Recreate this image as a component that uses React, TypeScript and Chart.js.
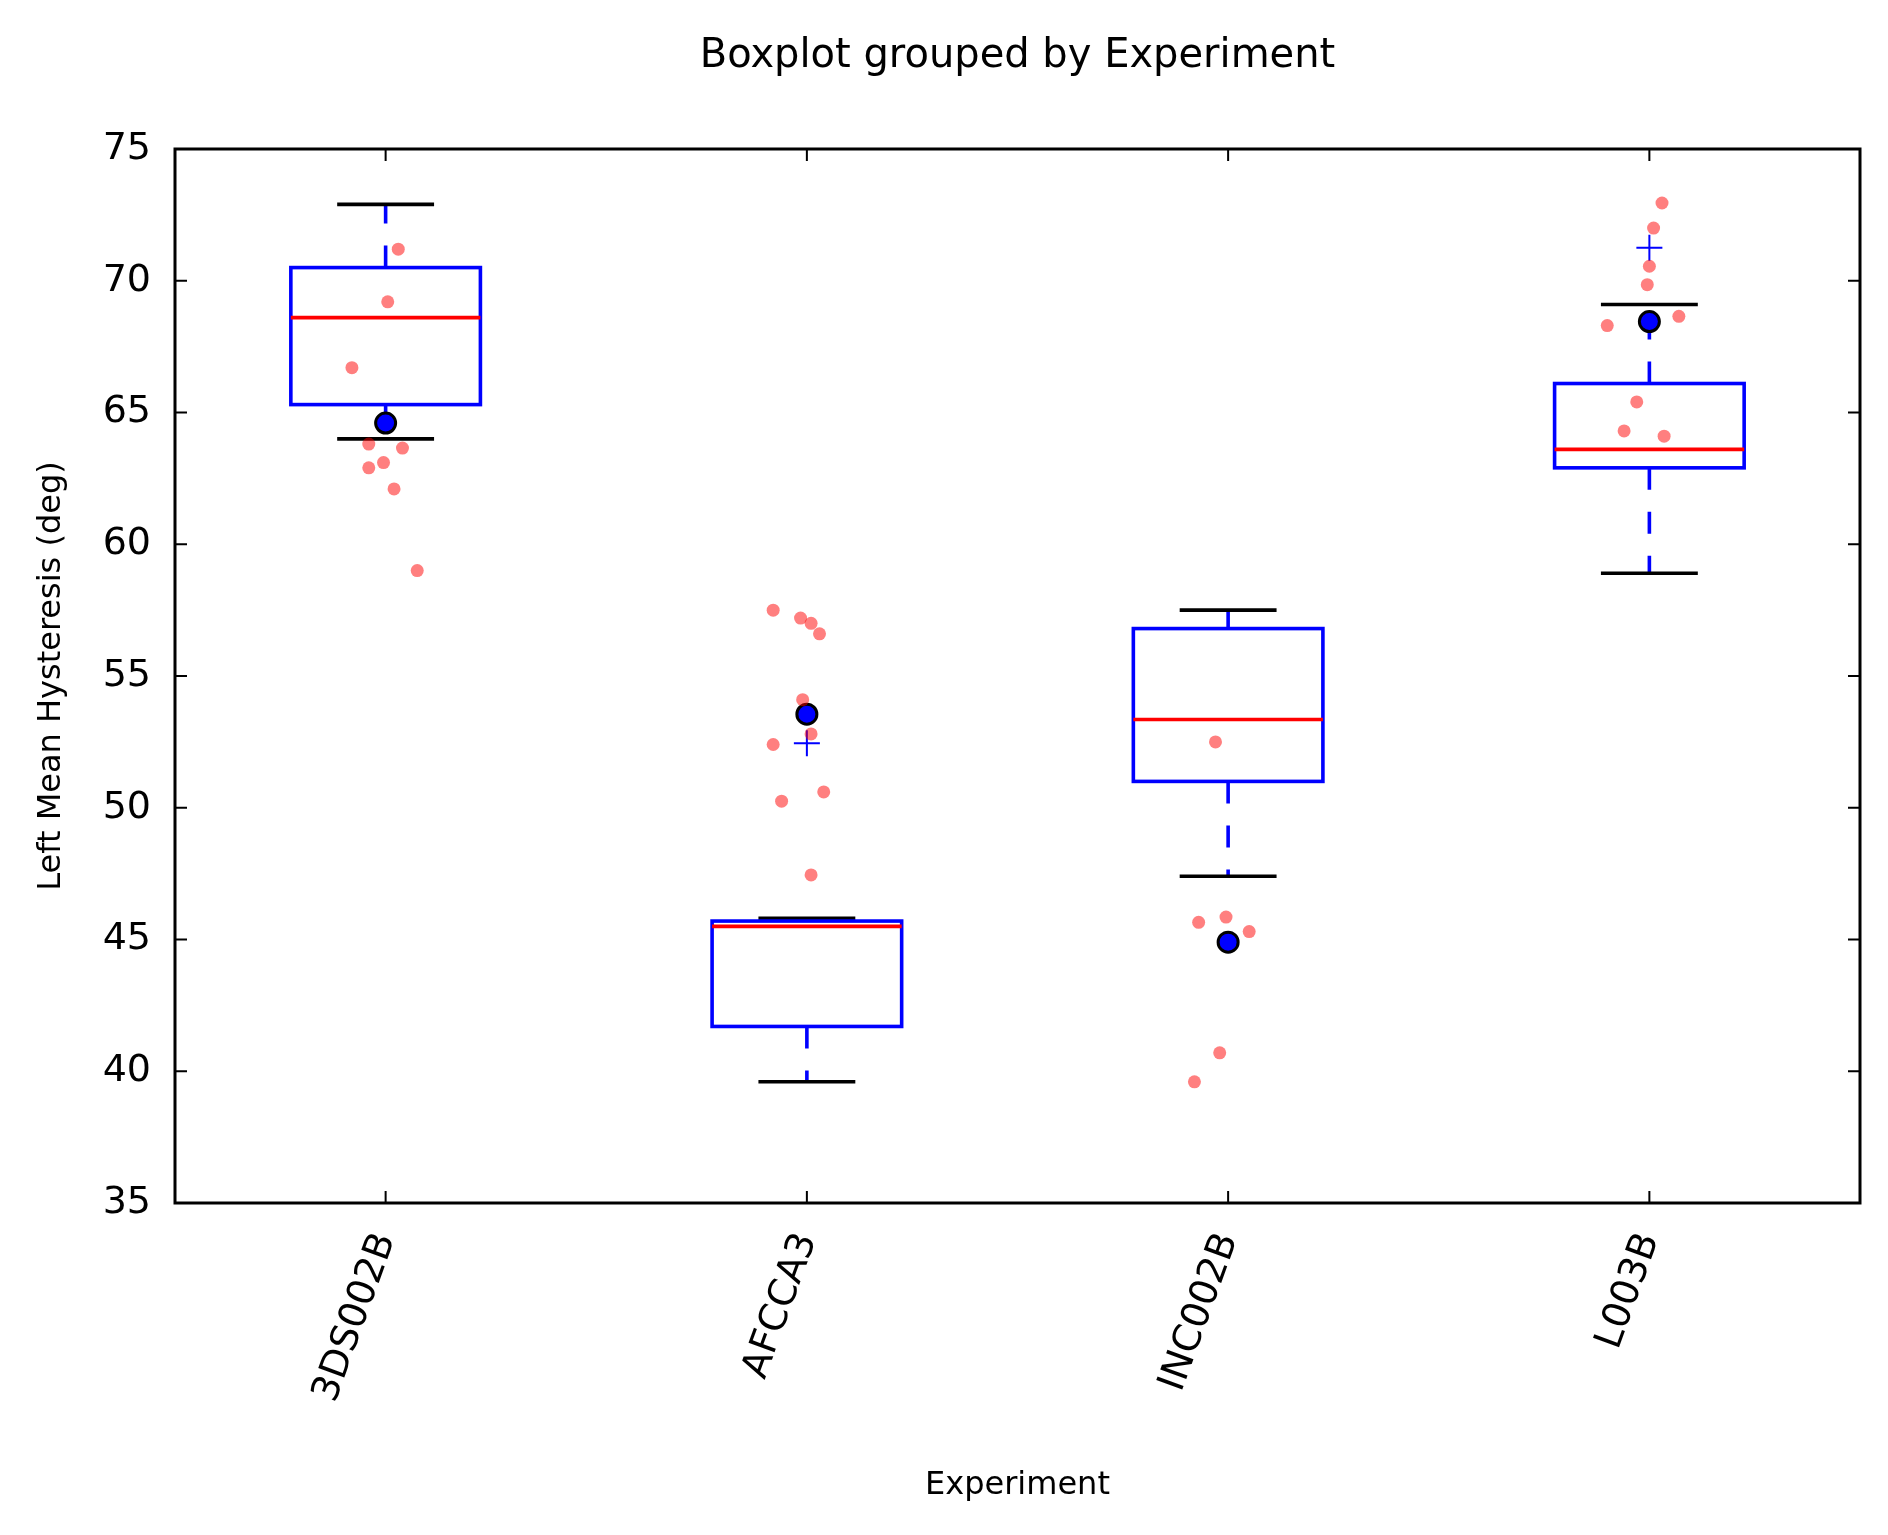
import React, { useEffect, useRef } from "react";
import { Chart, registerables } from "chart.js";

Chart.register(...registerables);

const categories = ["3DS002B", "AFCCA3", "INC002B", "L003B"];
const boxLow = [65.3, 41.7, 51.0, 62.9];
const boxHigh = [70.5, 45.7, 56.8, 66.1];
const medians = [68.6, 45.5, 53.35, 63.6];
const capLow = [64.0, 39.6, 47.4, 58.9];
const capHigh = [72.9, 45.8, 57.5, 69.1];
const means = [64.6, 53.55, 44.9, 68.45];
const fliers = [
  { x: 1, y: 52.45 },
  { x: 3, y: 71.25 },
];
const pointX = [
  0.03, 0.005, -0.08, -0.04, -0.005, -0.04, 0.04, 0.02, 0.075,
  0.92, 0.985, 1.01, 1.03, 0.99, 1.01, 0.92, 0.94, 1.04, 1.01,
  1.97, 1.93, 1.995, 2.05, 1.98, 1.92,
  3.03, 3.01, 3.0, 2.995, 2.9, 3.07, 2.97, 2.94, 3.035,
];
const pointY = [
  71.2, 69.2, 66.7, 63.8, 63.1, 62.9, 63.65, 62.1, 59.0,
  57.5, 57.2, 57.0, 56.6, 54.1, 52.8, 52.4, 50.25, 50.6, 47.45,
  52.5, 45.65, 45.85, 45.3, 40.7, 39.6,
  72.95, 72.0, 70.55, 69.85, 68.3, 68.65, 65.4, 64.3, 64.1,
];
const yTicks = [35, 40, 45, 50, 55, 60, 65, 70, 75];

const FONT = "DejaVu Sans";

const boxPlugin = {
  id: "boxes",
  beforeDatasetsDraw(chart: any) {
    const { ctx, scales, chartArea } = chart;
    const xs = scales.x;
    const ys = scales.y;
    ctx.save();
    categories.forEach((_, i) => {
      const cx = xs.getPixelForValue(i);
      const bw = xs.getPixelForValue(i + 0.225) - cx;
      const cw = xs.getPixelForValue(i + 0.115) - cx;
      const top = ys.getPixelForValue(boxHigh[i]);
      const bot = ys.getPixelForValue(boxLow[i]);
      // whiskers
      ctx.strokeStyle = "#0000ff";
      ctx.lineWidth = 3.6;
      ctx.setLineDash([22, 22]);
      ctx.beginPath();
      ctx.moveTo(cx, top);
      ctx.lineTo(cx, ys.getPixelForValue(capHigh[i]));
      ctx.moveTo(cx, bot);
      ctx.lineTo(cx, ys.getPixelForValue(capLow[i]));
      ctx.stroke();
      ctx.setLineDash([]);
      // caps
      ctx.strokeStyle = "#000";
      ctx.beginPath();
      [capHigh[i], capLow[i]].forEach((v) => {
        const py = ys.getPixelForValue(v);
        ctx.moveTo(cx - cw, py);
        ctx.lineTo(cx + cw, py);
      });
      ctx.stroke();
      // box
      ctx.strokeStyle = "#0000ff";
      ctx.strokeRect(cx - bw, top, bw * 2, bot - top);
      // median
      ctx.strokeStyle = "#ff0000";
      ctx.beginPath();
      const my = ys.getPixelForValue(medians[i]);
      ctx.moveTo(cx - bw, my);
      ctx.lineTo(cx + bw, my);
      ctx.stroke();
    });
    ctx.restore();
  },
  afterDraw(chart: any) {
    const { ctx, scales, chartArea } = chart;
    const xs = scales.x;
    const ys = scales.y;
    ctx.save();
    ctx.strokeStyle = "#000";
    ctx.lineWidth = 3;
    ctx.strokeRect(chartArea.left, chartArea.top, chartArea.right - chartArea.left, chartArea.bottom - chartArea.top);
    ctx.lineWidth = 2;
    ctx.beginPath();
    yTicks.forEach((v) => {
      const py = ys.getPixelForValue(v);
      ctx.moveTo(chartArea.left, py);
      ctx.lineTo(chartArea.left + 12, py);
      ctx.moveTo(chartArea.right, py);
      ctx.lineTo(chartArea.right - 12, py);
    });
    categories.forEach((_, i) => {
      const px = xs.getPixelForValue(i);
      ctx.moveTo(px, chartArea.bottom);
      ctx.lineTo(px, chartArea.bottom - 12);
      ctx.moveTo(px, chartArea.top);
      ctx.lineTo(px, chartArea.top + 12);
    });
    ctx.stroke();
    ctx.fillStyle = "#000";
    ctx.textAlign = "center";
    ctx.textBaseline = "middle";
    ctx.font = `40px ${FONT}`;
    ctx.fillText("Boxplot grouped by Experiment", (chartArea.left + chartArea.right) / 2, 57);
    ctx.font = `32px ${FONT}`;
    ctx.fillText("Experiment", (chartArea.left + chartArea.right) / 2, 1486);
    ctx.translate(52, (chartArea.top + chartArea.bottom) / 2);
    ctx.rotate(-Math.PI / 2);
    ctx.fillText("Left Mean Hysteresis (deg)", 0, 0);
    ctx.restore();
  },
};

const App: React.FC = () => {
  const ref = useRef<HTMLCanvasElement | null>(null);

  useEffect(() => {
    if (!ref.current) return;
    document.body.style.margin = "0";
    const chart = new Chart(ref.current, {
      type: "scatter",
      data: {
        datasets: [
          {
            label: "points",
            data: pointX.map((x, i) => ({ x, y: pointY[i] })),
            backgroundColor: "rgba(255,0,0,0.5)",
            borderWidth: 0,
            pointRadius: 6.5,
          },
          {
            label: "fliers",
            data: fliers,
            pointStyle: "cross",
            borderColor: "#0000ff",
            borderWidth: 2,
            pointRadius: 13,
          },
          {
            label: "means",
            data: means.map((y, i) => ({ x: i, y })),
            backgroundColor: "#0000ff",
            borderColor: "#000",
            borderWidth: 3,
            pointRadius: 10,
          },
        ],
      },
      options: {
        animation: false,
        responsive: false,
        devicePixelRatio: 1,
        layout: { padding: { top: 149, right: 28, bottom: 0, left: 0 } },
        plugins: { legend: { display: false }, tooltip: { enabled: false } },
        scales: {
          x: {
            type: "linear",
            min: -0.5,
            max: 3.5,
            afterFit: (s: any) => { s.height = 332; },
            afterBuildTicks: (s: any) => { s.ticks = categories.map((_, i) => ({ value: i })); },
            grid: { display: false },
            border: { display: false },
            ticks: {
              minRotation: 70,
              maxRotation: 70,
              padding: 16,
              color: "#000",
              font: { family: FONT, size: 38 },
              callback: (v: any) => categories[v as number] ?? "",
            },
          },
          y: {
            min: 35,
            max: 75,
            afterFit: (s: any) => { s.width = 175; },
            grid: { display: false },
            border: { display: false },
            ticks: { stepSize: 5, padding: 16, color: "#000", font: { family: FONT, size: 38 } },
          },
        },
      },
      plugins: [boxPlugin],
    } as any);
    return () => chart.destroy();
  }, []);

  return (
    <div style={{ position: "absolute", left: 0, top: 0, width: 1888, height: 1535, background: "#fff" }}>
      <canvas ref={ref} width={1888} height={1535} />
    </div>
  );
};

export default App;
